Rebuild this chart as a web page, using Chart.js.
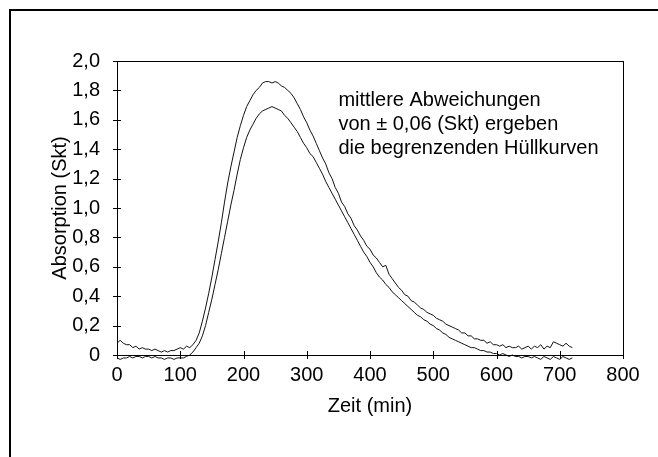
<!DOCTYPE html>
<html>
<head>
<meta charset="utf-8">
<script src="https://cdn.jsdelivr.net/npm/chart.js@4"></script>
<style>
    body { margin: 0; background: #fff; }
    #wrap { width: 658px; height: 457px; position: relative; }
</style>
</head>
<body>
<div id="wrap"><canvas id="absorptionChart"></canvas></div>
<script>
// sampling step of the recorded curves (min)
var timeStep = 5;

// upper envelope (Skt), 0..720 min
var upperCurve = [
    0.08, 0.10, 0.08, 0.07, 0.07, 0.05, 0.06, 0.04, 0.05, 0.04,
    0.04, 0.03, 0.04, 0.03, 0.02, 0.03, 0.02, 0.03, 0.03, 0.04,
    0.05, 0.04, 0.06, 0.05, 0.07, 0.10, 0.15, 0.23, 0.32, 0.42,
    0.53, 0.65, 0.77, 0.90, 1.04, 1.17, 1.28, 1.38, 1.48, 1.56,
    1.63, 1.69, 1.73, 1.77, 1.80, 1.82, 1.85, 1.86, 1.86, 1.85,
    1.86, 1.85, 1.83, 1.82, 1.80, 1.78, 1.75, 1.71, 1.67, 1.62,
    1.58, 1.53, 1.49, 1.44, 1.39, 1.34, 1.30, 1.24, 1.20, 1.14,
    1.10, 1.04, 1.01, 0.96, 0.93, 0.88, 0.85, 0.81, 0.78, 0.74,
    0.72, 0.68, 0.66, 0.63, 0.60, 0.61, 0.55, 0.52, 0.49, 0.46,
    0.44, 0.41, 0.40, 0.37, 0.36, 0.34, 0.32, 0.31, 0.29, 0.28,
    0.27, 0.25, 0.24, 0.23, 0.21, 0.20, 0.19, 0.18, 0.17, 0.15,
    0.15, 0.13, 0.13, 0.11, 0.11, 0.10, 0.10, 0.08, 0.09, 0.07,
    0.07, 0.06, 0.07, 0.05, 0.06, 0.05, 0.05, 0.06, 0.04, 0.05,
    0.06, 0.04, 0.06, 0.05, 0.07, 0.04, 0.06, 0.05, 0.09, 0.08,
    0.07, 0.06, 0.08, 0.06, 0.05
];

// lower envelope (Skt), 0..720 min
var lowerCurve = [
    -0.02, -0.03, -0.02, -0.02, -0.01, -0.02, -0.01, -0.01, -0.02, -0.01,
    -0.01, -0.02, -0.01, -0.02, -0.02, -0.03, -0.02, -0.02, -0.03, -0.02,
    -0.02, -0.02, -0.01, 0.00, 0.02, 0.05, 0.08, 0.13, 0.20, 0.29,
    0.38, 0.48, 0.58, 0.69, 0.80, 0.91, 1.02, 1.12, 1.23, 1.33,
    1.41, 1.48, 1.53, 1.57, 1.61, 1.64, 1.66, 1.67, 1.68, 1.69,
    1.68, 1.67, 1.66, 1.63, 1.61, 1.58, 1.55, 1.52, 1.48, 1.44,
    1.41, 1.37, 1.35, 1.31, 1.27, 1.23, 1.18, 1.14, 1.10, 1.06,
    1.02, 0.98, 0.94, 0.90, 0.86, 0.82, 0.78, 0.74, 0.70, 0.67,
    0.63, 0.60, 0.56, 0.53, 0.51, 0.48, 0.46, 0.43, 0.41, 0.39,
    0.37, 0.35, 0.33, 0.31, 0.29, 0.27, 0.26, 0.24, 0.23, 0.21,
    0.20, 0.18, 0.17, 0.15, 0.14, 0.12, 0.11, 0.10, 0.09, 0.08,
    0.07, 0.06, 0.05, 0.05, 0.04, 0.03, 0.03, 0.02, 0.02, 0.01,
    0.01, 0.00, 0.01, 0.00, -0.01, 0.00, -0.01, -0.01, -0.02, -0.01,
    -0.01, -0.02, -0.01, -0.02, -0.03, -0.01, -0.02, -0.03, -0.01, -0.02,
    -0.03, -0.01, -0.02, -0.03, -0.02
];

var xTickLabels = ['0', '100', '200', '300', '400', '500', '600', '700', '800'];
var yTickLabels = ['0', '0,2', '0,4', '0,6', '0,8', '1,0', '1,2', '1,4', '1,6', '1,8', '2,0'];
var noteLines = ['mittlere Abweichungen', 'von \u00b1 0,06 (Skt) ergeben', 'die begrenzenden H\u00fcllkurven'];

var fontFamily = '"Liberation Sans", Arial, sans-serif';

function toPoints(values) {
    return values.map(function (v, i) {
        return { x: i * timeStep, y: v };
    });
}

// frame, crossing tick marks and the note text
var decorations = {
    id: 'decorations',
    beforeDraw: function (chart) {
        var ctx = chart.ctx;
        ctx.save();
        ctx.strokeStyle = '#000';
        ctx.lineWidth = 2;
        ctx.beginPath();
        ctx.moveTo(10, 457);
        ctx.lineTo(10, 10);
        ctx.lineTo(660, 10);
        ctx.stroke();
        ctx.restore();
    },
    afterDraw: function (chart) {
        var ctx = chart.ctx;
        var area = chart.chartArea;
        var xs = chart.scales.x;
        var ys = chart.scales.y;
        ctx.save();
        ctx.strokeStyle = '#000';
        ctx.lineWidth = 1;
        ctx.strokeRect(area.left + 0.5, area.top + 0.5, area.right - area.left, area.bottom - area.top);

        ctx.beginPath();
        ys.ticks.forEach(function (t, i) {
            var py = Math.round(ys.getPixelForTick(i)) + 0.5;
            ctx.moveTo(area.left - 4, py);
            ctx.lineTo(area.left + 4, py);
        });
        xs.ticks.forEach(function (t, i) {
            var px = Math.round(xs.getPixelForTick(i)) + 0.5;
            ctx.moveTo(px, area.bottom - 4);
            ctx.lineTo(px, area.bottom + 4);
        });
        ctx.stroke();

        ctx.fillStyle = '#000';
        ctx.font = '20px ' + fontFamily;
        ctx.textBaseline = 'middle';
        ctx.textAlign = 'left';
        var nx = xs.getPixelForValue(350);
        noteLines.forEach(function (line, i) {
            ctx.fillText(line, nx, 100 + i * 24);
        });
        ctx.restore();
    }
};

var ctx = document.getElementById('absorptionChart').getContext('2d');
new Chart(ctx, {
    type: 'line',
    data: {
        datasets: [{
            label: 'obere Hüllkurve',
            data: toPoints(upperCurve),
            borderColor: '#111',
            borderWidth: 1,
            pointRadius: 0,
            tension: 0,
            fill: false,
            clip: false
        }, {
            label: 'untere Hüllkurve',
            data: toPoints(lowerCurve),
            borderColor: '#111',
            borderWidth: 1,
            pointRadius: 0,
            tension: 0,
            fill: false,
            clip: false
        }]
    },
    options: {
        responsive: true,
        maintainAspectRatio: false,
        devicePixelRatio: 1,
        animation: false,
        layout: {
            padding: { left: 0, top: 61, right: 35, bottom: 0 }
        },
        plugins: {
            legend: { display: false },
            tooltip: { enabled: false }
        },
        scales: {
            x: {
                type: 'linear',
                min: 0,
                max: 800,
                afterFit: function (scale) { scale.height = 102; },
                afterBuildTicks: function (scale) {
                    scale.ticks = xTickLabels.map(function (l) { return { value: Number(l) }; });
                },
                ticks: {
                    color: '#000',
                    padding: 8,
                    maxRotation: 0,
                    font: { size: 20, family: fontFamily },
                    callback: function (value, index) { return xTickLabels[index]; }
                },
                grid: { display: false, drawTicks: false },
                border: { color: '#000', width: 1 },
                title: {
                    display: true,
                    text: 'Zeit (min)',
                    color: '#000',
                    font: { size: 20, family: fontFamily },
                    padding: { top: 0, bottom: 39 }
                }
            },
            y: {
                min: 0,
                max: 2,
                afterFit: function (scale) { scale.width = 117; },
                afterBuildTicks: function (scale) {
                    scale.ticks = yTickLabels.map(function (l) { return { value: Number(l.replace(',', '.')) }; });
                },
                ticks: {
                    color: '#000',
                    padding: 17,
                    font: { size: 20, family: fontFamily },
                    callback: function (value, index) { return yTickLabels[index]; }
                },
                grid: { display: false, drawTicks: false },
                border: { color: '#000', width: 1 },
                title: {
                    display: true,
                    text: 'Absorption (Skt)',
                    color: '#000',
                    font: { size: 20, family: fontFamily },
                    padding: { top: 48, bottom: 0 }
                }
            }
        }
    },
    plugins: [decorations]
});
</script>
</body>
</html>
